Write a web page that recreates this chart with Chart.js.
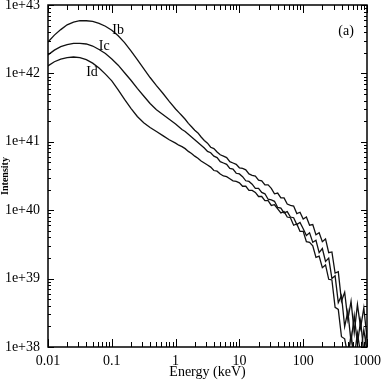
<!DOCTYPE html>
<html>
<head>
<meta charset="utf-8">
<script src="https://cdn.jsdelivr.net/npm/chart.js@4.4.1/dist/chart.umd.min.js"></script>
<style>
    html, body { margin: 0; padding: 0; background: #fff; }
    #wrap { width: 382px; height: 382px; }
</style>
</head>
<body>
<div id="wrap"><canvas id="spectrumChart"></canvas></div>
<script>
// energies as log10(E / keV), intensities as log10(I)
const logEnergy = [
    -2.0, -1.9, -1.8, -1.7, -1.6, -1.5, -1.4, -1.3, -1.2, -1.1,
    -1.0, -0.9, -0.8, -0.7, -0.6, -0.5, -0.4, -0.3, -0.2, -0.1,
    0.00, 0.05, 0.10, 0.15, 0.20, 0.25, 0.30, 0.35, 0.40, 0.45,
    0.50, 0.55, 0.60, 0.65, 0.70, 0.75, 0.80, 0.85, 0.90, 0.95,
    1.00, 1.05, 1.10, 1.15, 1.20, 1.25, 1.30, 1.35, 1.40, 1.45,
    1.50, 1.55, 1.60, 1.65, 1.70, 1.75, 1.80, 1.85, 1.90, 1.95,
    2.00, 2.05, 2.10, 2.15, 2.20, 2.25, 2.30, 2.35, 2.40, 2.45,
    2.50, 2.55, 2.60, 2.65, 2.70, 2.75, 2.80, 2.85, 2.90, 2.95,
    3.00
];

const logIb = [
    42.46, 42.56, 42.64, 42.71, 42.75, 42.77, 42.77, 42.76, 42.73, 42.69,
    42.63, 42.55, 42.45, 42.33, 42.20, 42.07, 41.94, 41.82, 41.71, 41.59,
    41.48, 41.43, 41.38, 41.33, 41.27, 41.22, 41.17, 41.13, 41.07, 41.02,
    40.98, 40.92, 40.90, 40.85, 40.81, 40.79, 40.77, 40.71, 40.69, 40.67,
    40.62, 40.61, 40.59, 40.53, 40.51, 40.50, 40.44, 40.43, 40.37, 40.37,
    40.32, 40.24, 40.25, 40.18, 40.18, 40.09, 40.07, 40.06, 39.95, 39.97,
    39.87, 39.90, 39.78, 39.79, 39.64, 39.67, 39.54, 39.58, 39.38, 39.39,
    39.08, 39.10, 38.67, 38.80, 38.40, 38.67, 38.21, 38.62, 38.28, 38.57,
    38.13
];

const logIc = [
    42.27, 42.34, 42.39, 42.42, 42.44, 42.44, 42.43, 42.40, 42.35, 42.29,
    42.21, 42.12, 42.01, 41.90, 41.78, 41.67, 41.56, 41.47, 41.40, 41.33,
    41.26, 41.22, 41.18, 41.15, 41.11, 41.07, 41.03, 40.99, 40.95, 40.91,
    40.86, 40.84, 40.79, 40.77, 40.71, 40.69, 40.67, 40.61, 40.60, 40.54,
    40.53, 40.49, 40.43, 40.42, 40.38, 40.32, 40.32, 40.26, 40.24, 40.16,
    40.15, 40.13, 40.04, 40.03, 39.96, 39.98, 39.90, 39.89, 39.79, 39.82,
    39.73, 39.63, 39.67, 39.53, 39.56, 39.38, 39.44, 39.25, 39.30, 39.00,
    39.04, 38.65, 38.75, 38.30, 38.52, 38.07, 38.46, 38.05, 38.38, 37.92,
    38.25
];

const logId = [
    42.11, 42.17, 42.21, 42.23, 42.24, 42.23, 42.20, 42.15, 42.08, 41.99,
    41.89, 41.76, 41.62, 41.49, 41.37, 41.28, 41.21, 41.15, 41.09, 41.03,
    40.98, 40.95, 40.93, 40.90, 40.86, 40.83, 40.79, 40.76, 40.72, 40.69,
    40.66, 40.63, 40.58, 40.57, 40.53, 40.50, 40.49, 40.46, 40.43, 40.42,
    40.40, 40.35, 40.35, 40.29, 40.29, 40.26, 40.20, 40.20, 40.14, 40.14,
    40.07, 40.08, 40.02, 39.96, 39.98, 39.90, 39.89, 39.78, 39.80, 39.69,
    39.69, 39.54, 39.53, 39.48, 39.31, 39.33, 39.16, 39.20, 38.99, 38.98,
    38.58, 38.55, 38.15, 38.12, 37.87, 38.18, 37.85, 38.20, 37.90, 38.25,
    37.95
];

const seriesNames = ["Ib", "Ic", "Id"];

const xTicks = [0.01, 0.1, 1, 10, 100, 1000];
const xTickLabels = ["0.01", "0.1", "1", "10", "100", "1000"];
const yTicks = [1e38, 1e39, 1e40, 1e41, 1e42, 1e43];
const yTickLabels = ["1e+38", "1e+39", "1e+40", "1e+41", "1e+42", "1e+43"];

const SERIF = "'Liberation Serif', 'DejaVu Serif', serif";

function toPoints(logI) {
    return logEnergy.map(function (le, i) {
        return { x: Math.pow(10, le), y: Math.pow(10, logI[i]) };
    });
}

function logTicks(decades) {
    const ticks = [];
    decades.forEach(function (d, i) {
        ticks.push({ value: d, major: true });
        if (i < decades.length - 1) {
            for (let m = 2; m <= 9; m++) {
                ticks.push({ value: d * m, major: false });
            }
        }
    });
    return ticks;
}

// box, inward ticks on all four sides, and the text labels
const framePlugin = {
    id: "frame",
    afterDraw: function (chart) {
        const ctx = chart.ctx;
        const a = chart.chartArea;
        const xs = chart.scales.x;
        const ys = chart.scales.y;
        ctx.save();
        ctx.strokeStyle = "#000";
        ctx.lineWidth = 1;
        ctx.beginPath();
        xs.ticks.forEach(function (t) {
            const px = Math.round(xs.getPixelForValue(t.value)) + 0.5;
            const len = t.major ? 8 : 5;
            ctx.moveTo(px, a.bottom);
            ctx.lineTo(px, a.bottom - len);
            ctx.moveTo(px, a.top);
            ctx.lineTo(px, a.top + len);
        });
        ys.ticks.forEach(function (t) {
            const py = Math.round(ys.getPixelForValue(t.value)) + 0.5;
            const len = t.major ? 6 : 3;
            ctx.moveTo(a.left, py);
            ctx.lineTo(a.left + len, py);
            ctx.moveTo(a.right, py);
            ctx.lineTo(a.right - len, py);
        });
        ctx.stroke();
        ctx.lineWidth = 1.5;
        ctx.strokeRect(a.left, a.top, a.right - a.left, a.bottom - a.top);

        ctx.fillStyle = "#000";
        ctx.font = "14px " + SERIF;
        ctx.textAlign = "center";
        ctx.textBaseline = "middle";
        const notes = [
            { text: seriesNames[0], x: 0.126, y: 4.2e42 },
            { text: seriesNames[1], x: 0.076, y: 2.45e42 },
            { text: seriesNames[2], x: 0.049, y: 1.05e42 },
            { text: "(a)", x: 470, y: 4.1e42 }
        ];
        notes.forEach(function (n) {
            ctx.fillText(n.text, xs.getPixelForValue(n.x), ys.getPixelForValue(n.y));
        });
        ctx.restore();
    }
};

document.addEventListener("DOMContentLoaded", function () {
    const canvas = document.getElementById("spectrumChart");

    new Chart(canvas, {
        type: "scatter",
        data: {
            datasets: [logIb, logIc, logId].map(function (series, i) {
                return {
                    label: seriesNames[i],
                    data: toPoints(series),
                    showLine: true,
                    borderColor: "#111",
                    borderWidth: 1.3,
                    pointRadius: 0,
                    fill: false,
                    tension: 0
                };
            })
        },
        options: {
            responsive: true,
            maintainAspectRatio: false,
            animation: false,
            layout: {
                padding: { top: 5, right: 15, left: 0, bottom: 0 }
            },
            plugins: {
                legend: { display: false },
                tooltip: { enabled: false }
            },
            scales: {
                x: {
                    type: "logarithmic",
                    min: 0.01,
                    max: 1000,
                    grid: { display: false, drawTicks: false },
                    border: { display: false },
                    afterBuildTicks: function (scale) {
                        scale.ticks = logTicks(xTicks);
                    },
                    afterFit: function (scale) {
                        scale.height = 35;
                        scale.paddingLeft = 0;
                        scale.paddingRight = 0;
                    },
                    ticks: {
                        autoSkip: false,
                        maxRotation: 0,
                        minRotation: 0,
                        padding: 6,
                        color: "#000",
                        font: { family: SERIF, size: 14 },
                        callback: function (value) {
                            const i = xTicks.indexOf(value);
                            return i >= 0 ? xTickLabels[i] : "";
                        }
                    },
                    title: {
                        display: true,
                        text: "Energy (keV)",
                        color: "#000",
                        font: { family: SERIF, size: 14, lineHeight: 1 },
                        padding: { top: 0, bottom: 3 }
                    }
                },
                y: {
                    type: "logarithmic",
                    min: 1e38,
                    max: 1e43,
                    grid: { display: false, drawTicks: false },
                    border: { display: false },
                    afterBuildTicks: function (scale) {
                        scale.ticks = logTicks(yTicks);
                    },
                    afterFit: function (scale) {
                        scale.width = 48;
                        scale.paddingTop = 0;
                        scale.paddingBottom = 0;
                    },
                    ticks: {
                        autoSkip: false,
                        padding: 8,
                        color: "#000",
                        font: { family: SERIF, size: 14 },
                        callback: function (value) {
                            const i = yTicks.indexOf(value);
                            return i >= 0 ? yTickLabels[i] : "";
                        }
                    },
                    title: {
                        display: true,
                        text: "Intensity",
                        color: "#000",
                        font: { family: SERIF, size: 10, weight: "bold", lineHeight: 1 },
                        padding: 0
                    }
                }
            }
        },
        plugins: [framePlugin]
    });
});
</script>
</body>
</html>
